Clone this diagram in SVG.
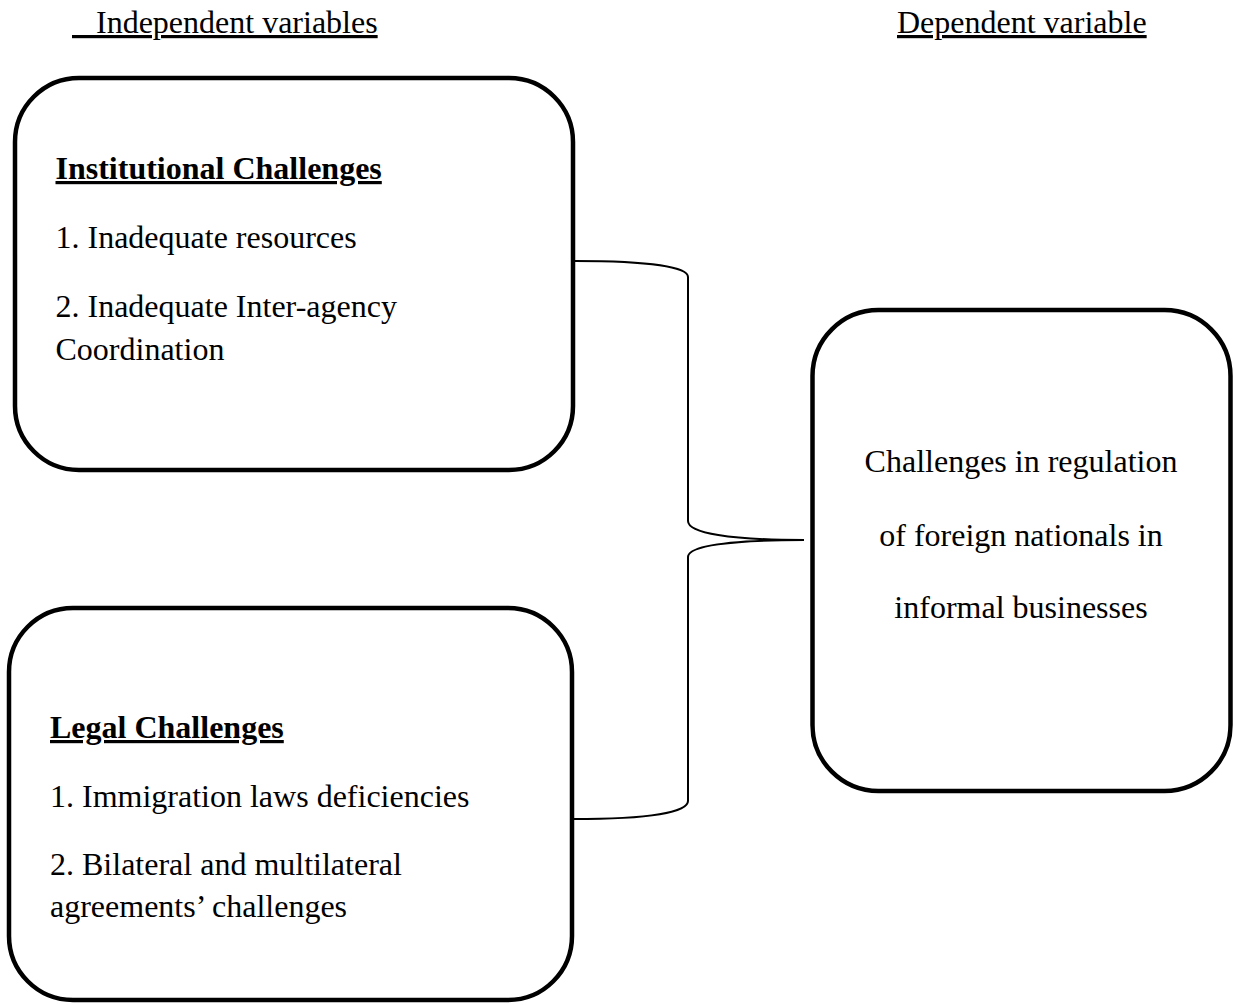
<svg xmlns="http://www.w3.org/2000/svg" width="1234" height="1005" viewBox="0 0 1234 1005">
  <style>
    .box { fill: #ffffff; stroke: #000000; stroke-width: 4.5; }
    .txt { font-family: "Liberation Serif", "Times New Roman", serif; font-size: 32px; fill: #000000; }
    .hd { font-weight: bold; text-decoration: underline; }
    .ul { text-decoration: underline; white-space: pre; }
    .brace { fill: none; stroke: #000000; stroke-width: 2; }
  </style>
  <rect width="1234" height="1005" fill="#ffffff"/>

  <g id="header-independent">
    <text class="txt ul" x="72" y="33" xml:space="preserve">   Independent variables</text>
  </g>
  <g id="header-dependent">
    <text class="txt ul" x="897" y="33">Dependent variable</text>
  </g>

  <g id="connectors">
    <path class="brace" d="M575,261 C650,261 688,267 688,277 L688,521 C688,533 730,540 804,540"/>
    <path class="brace" d="M804,540 C730,540 688,546 688,557 L688,801 C688,812 650,819 573,819"/>
  </g>

  <g id="node-institutional">
    <rect class="box" x="15" y="78" width="558" height="392" rx="64" ry="64"/>
    <text class="txt hd" x="55.5" y="179">Institutional Challenges</text>
    <text class="txt" x="55.5" y="247.5">1. Inadequate resources</text>
    <text class="txt" x="55.5" y="316.5">2. Inadequate Inter-agency</text>
    <text class="txt" x="55.5" y="360">Coordination</text>
  </g>

  <g id="node-legal">
    <rect class="box" x="9" y="608" width="563" height="392" rx="64" ry="64"/>
    <text class="txt hd" x="50" y="738">Legal Challenges</text>
    <text class="txt" x="50" y="806.5">1. Immigration laws deficiencies</text>
    <text class="txt" x="50" y="875">2. Bilateral and multilateral</text>
    <text class="txt" x="50" y="917">agreements’ challenges</text>
  </g>

  <g id="node-dependent">
    <rect class="box" x="812.5" y="310" width="418" height="481" rx="66" ry="66"/>
    <text class="txt" x="1021" y="472" text-anchor="middle">Challenges in regulation</text>
    <text class="txt" x="1021" y="546" text-anchor="middle">of foreign nationals in</text>
    <text class="txt" x="1021" y="618" text-anchor="middle">informal businesses</text>
  </g>
</svg>
